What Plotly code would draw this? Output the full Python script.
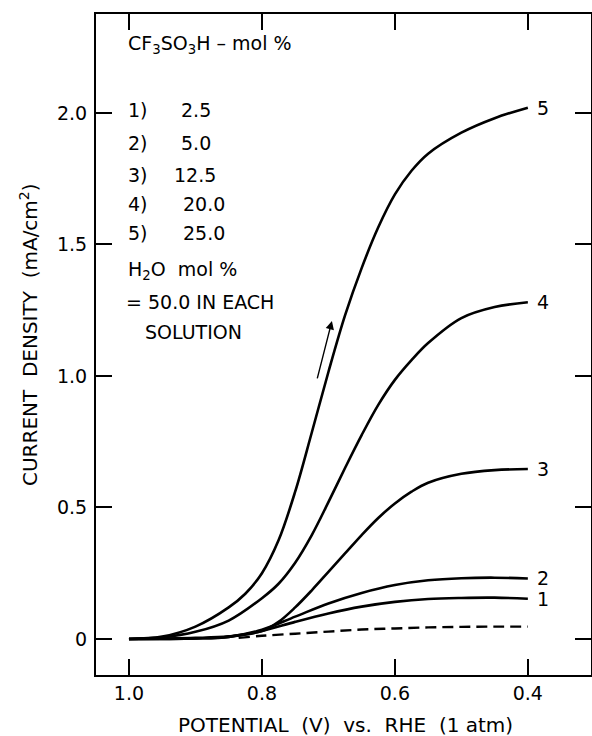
import plotly.graph_objects as go

# ---- data ----
pot_5 = [1.0, 0.95, 0.9, 0.85, 0.825, 0.8, 0.775, 0.75, 0.725, 0.7, 0.675, 0.65, 0.625, 0.6, 0.575, 0.55, 0.5, 0.45, 0.4]
cd_5 = [0.0, 0.009, 0.047, 0.12, 0.172, 0.25, 0.375, 0.56, 0.785, 1.015, 1.23, 1.41, 1.565, 1.69, 1.78, 1.845, 1.925, 1.98, 2.02]
pot_4 = [1.0, 0.95, 0.9, 0.85, 0.8, 0.775, 0.75, 0.725, 0.7, 0.675, 0.65, 0.625, 0.6, 0.575, 0.55, 0.5, 0.45, 0.4]
cd_4 = [0.0, 0.006, 0.027, 0.07, 0.155, 0.21, 0.29, 0.395, 0.52, 0.65, 0.775, 0.89, 0.985, 1.06, 1.125, 1.22, 1.262, 1.28]
pot_3 = [1.0, 0.9, 0.85, 0.8, 0.775, 0.75, 0.725, 0.7, 0.675, 0.65, 0.625, 0.6, 0.575, 0.55, 0.5, 0.45, 0.4]
cd_3 = [0.0, 0.004, 0.01, 0.03, 0.065, 0.12, 0.185, 0.255, 0.325, 0.395, 0.46, 0.515, 0.56, 0.594, 0.628, 0.642, 0.646]
pot_2 = [1.0, 0.9, 0.85, 0.8, 0.75, 0.7, 0.65, 0.6, 0.55, 0.5, 0.45, 0.4]
cd_2 = [0.0, 0.002, 0.008, 0.035, 0.085, 0.135, 0.175, 0.205, 0.223, 0.231, 0.233, 0.23]
pot_1 = [1.0, 0.9, 0.85, 0.8, 0.75, 0.7, 0.65, 0.6, 0.55, 0.5, 0.45, 0.4]
cd_1 = [0.0, 0.002, 0.008, 0.03, 0.065, 0.097, 0.123, 0.141, 0.152, 0.156, 0.157, 0.153]
pot_blank = [0.835, 0.8, 0.75, 0.7, 0.65, 0.6, 0.55, 0.5, 0.45, 0.4]
cd_blank = [0.004, 0.012, 0.02, 0.028, 0.036, 0.04, 0.044, 0.046, 0.047, 0.047]

curve_labels = ["1", "2", "3", "4", "5"]
acid_ids = ["1)", "2)", "3)", "4)", "5)"]
acid_molpct = ["2.5", "5.0", "12.5", "20.0", "25.0"]

x_ticks = [1.0, 0.8, 0.6, 0.4]
x_ticktext = ["1.0", "0.8", "0.6", "0.4"]
y_ticks = [0, 0.5, 1.0, 1.5, 2.0]
y_ticktext = ["0", "0.5", "1.0", "1.5", "2.0"]

FONT = "DejaVu Sans"
W, H = 592, 736
# plot area in page pixels: left 96, right 591, top 14, bottom 675
L, T = 96, 14
R = W - 591
B = H - 675
PW, PH = W - L - R, H - T - B

fig = go.Figure()
xs_list = [pot_1, pot_2, pot_3, pot_4, pot_5]
ys_list = [cd_1, cd_2, cd_3, cd_4, cd_5]
for xs, ys in zip(xs_list, ys_list):
    fig.add_trace(go.Scatter(x=xs, y=ys, mode="lines",
                             line=dict(color="black", width=2.6, shape="spline", smoothing=1.0),
                             showlegend=False, hoverinfo="skip"))
fig.add_trace(go.Scatter(x=pot_blank, y=cd_blank, mode="lines",
                         line=dict(color="black", width=2.4, dash="11px,6px", shape="spline"),
                         showlegend=False, hoverinfo="skip"))

# curve end labels
for lab, xs, ys in zip(curve_labels, xs_list, ys_list):
    fig.add_annotation(x=xs[-1], y=ys[-1], text=lab, showarrow=False,
                       xanchor="left", yanchor="middle", xshift=7,
                       font=dict(family=FONT, size=19, color="black"))

def px2paper(px, py):
    return (px - L) / PW, 1 - (py - T) / PH

def txt(px, py, s, size=19, xanchor="left", angle=0):
    xp, yp = px2paper(px, py)
    fig.add_annotation(x=xp, y=yp, xref="paper", yref="paper", text=s, showarrow=False,
                       xanchor=xanchor, yanchor="middle", textangle=angle,
                       font=dict(family=FONT, size=size, color="black"))

# legend block
txt(126, 44, "CF<sub>3</sub>SO<sub>3</sub>H \u2013 mol %")
rows_y = [110, 143, 175, 204, 233]
num_x = [179, 179, 172, 181, 181]
for yy, nx, i_d, v in zip(rows_y, num_x, acid_ids, acid_molpct):
    txt(126, yy, i_d)
    txt(nx, yy, v)
txt(126, 270, "H<sub>2</sub>O  mol %")
txt(124, 302, "= 50.0 IN EACH")
txt(143, 332, "SOLUTION")

# axis titles
txt(345, 725, "POTENTIAL  (V)  vs.  RHE  (1 atm)", size=20, xanchor="center")
txt(29, 335, "CURRENT  DENSITY  (mA/cm<sup>2</sup>)", size=20, xanchor="center", angle=-90)

# arrow
fig.add_annotation(x=0.6947, y=1.209, ax=0.7173, ay=0.985, xref="x", yref="y",
                   axref="x", ayref="y", text="", showarrow=True,
                   arrowhead=2, arrowsize=1.2, arrowwidth=1.4, arrowcolor="black")

fig.update_layout(
    width=W, height=H,
    margin=dict(l=L, r=R, t=T, b=B, autoexpand=False),
    paper_bgcolor="white", plot_bgcolor="white",
    font=dict(family=FONT, size=19, color="black"),
    showlegend=False,
)
fig.update_xaxes(range=[1.0496, 0.305], tickvals=x_ticks, ticktext=x_ticktext,
                 ticks="inside", ticklen=16, tickwidth=1.6, tickcolor="black",
                 showline=True, linecolor="black", linewidth=2, mirror="ticks",
                 showgrid=False, zeroline=False, automargin=False,
                 tickfont=dict(family=FONT, size=19))
fig.update_yaxes(range=[-0.137, 2.376], tickvals=y_ticks, ticktext=y_ticktext,
                 ticks="inside", ticklen=16, tickwidth=1.6, tickcolor="black",
                 showline=True, linecolor="black", linewidth=2, mirror="ticks",
                 showgrid=False, zeroline=False, automargin=False,
                 ticklabelstandoff=3,
                 tickfont=dict(family=FONT, size=19))

fig.write_html("out.html", config={"displayModeBar": False},
               post_script="document.body.style.margin='0';document.body.style.overflow='hidden';")
